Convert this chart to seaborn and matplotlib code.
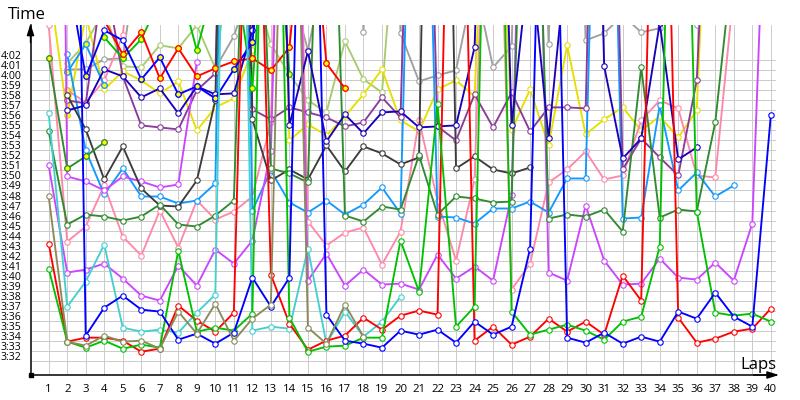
import numpy as np
import pandas as pd
import matplotlib
matplotlib.use('Agg')
import matplotlib.pyplot as plt
from matplotlib.transforms import ScaledTranslation
import seaborn as sns

nan = np.nan
laps = list(range(1, 41))
# lap times in seconds, anything above 4:05 runs off the top of the chart
red_a = [223.7, 213.9, 214.3, 214.3, 214, 212.9, 213.2, 217.5, 216, 214.9, 216.8, 287, 220.6, 215.7, 213.1, 214, 214.5, 216.3, 215.1, 216.5, 217, 216.6, 300, 214, 215.4, 213.6, 214.4, 216.2, 214.9, 215.9, 214.6, 220.5, 218, 295, 216.3, 213.8, 214.2, 214.9, 215.2, 217.2]
red_b = [nan, nan, nan, 246, 242.6, 244.8, 240.2, 243.2, 240.4, 241.2, 241.9, 242.2, 241, 243.3, 262, 241.7, 239.2] + [nan] * 23
green_a = [221.2, 213.9, 213.3, 214, 213.2, 213.6, 213.3, 223, 214.9, 215.3, 215, 216.7, 305, 216.3, 212.9, 213.4, 213.5, 214.3, 214.3, 224, 218.9, 237.6, 215.4, 217.4, 300, 216.9, 214.6, 215.1, 215.6, 215, 214.1, 215.9, 216.4, 223.4, 300, 226.9, 216.8, 216.5, 216.7, 215.9]
green_b = [nan, nan, nan, 244.3, 242.2, 244.1, 248, 250, 243, 250, 252, 239.2, 265, 240.6] + [nan] * 26
blue_a = [nan, 330, 214.5, 217.3, 218.5, 217.1, 216.9, 214.1, 214.7, 213.7, 214.8, 220.3, 217.4, 220.3, 300, 216.6, 214, 213.7, 213.3, 215, 214.6, 215.1, 213.8, 215.9, 214.6, 215.4, 223.2, 297, 214.3, 213.8, 214.8, 213.7, 214.4, 213.9, 216.9, 216.2, 218.8, 216.4, 215.4, 236.5]
blue_b = [nan, 251, 240.4, 245, 244, 240.1, 242.3, 238.6, 239.4, 238.2, 241.1, 243.8, 262] + [nan] * 27
navy = [nan, 237, 237.5, 241.1, 240.4, 238.3, 239.2, 236.7, 239.4, 238.6, 238.7, 245, 300, 235.5, 242.9, 233.9, 236.6, 234.7, 236.8, 236.9, 235.3, 235.4, 235.5, 243.3, 300, 235.5, 253, 234.2, 253, 310, 241.4, 232.2, 234.2, 245.7, 232.1, 233.3] + [nan] * 4
dark_a = [242.2, 231.2, 232.4, 233.8] + [nan] * 36
dark_b = [234.9, 225.6, 226.6, 226.4, 226, 226.4, 227.6, 225.6, 225.4, 226.5, 228, 285, 231.2, 230.7, 229.8, 287, 226.5, 225.9, 227.4, 227.1, 232.5, 226.6, 228.4, 228.2, 227.8, 227.9, 290, 226.2, 226.6, 226.4, 227.1, 224.9, 241.3, 226.3, 227.1, 226.9, 235.8, 253, nan, nan]
teal = [236.7, 217.4, 219.9, 223.6, 215.3, 214.9, 215.1, 214.8, 216.8, 218.6, 320, 215, 215.4, 215.2, 223.2, 213.7, 216.9, 214.4, 215.9, 218.4] + [nan] * 20
olive = [228.4, 213.9, 213.5, 214.5, 213.9, 214, 213.2, 216.9, 214.7, 217.7, 214, 216.2, 217.6, 295, 215.3, 213.7, 217.6, 214.4] + [nan] * 22
pink_a = [245.5, 223.9, 225.4, 229.5, 224.4, 222.5, 227, 223.3, 228, 226.1, 226.9, 228.4, 235.8, 300, 225.9, 223.5, 224.8, 225.3, 221.6, 224.9, 236, 228, 222, 230.1, 285, 219.1, 221.7, 229.8, 231.1, 232.9, 230.1, 230.5, 236, 238, 237.2, 230.5, 230.3, 249, nan, nan]
pink_b = [nan, 239, 237.8, 240, 244.5, 262] + [nan] * 34
violet_a = [231.5, 220.8, 221.1, 221.7, 220.2, 218.5, 218, 221.5, 219.5, 223.1, 221.7, 224, 232.9, 300, 220, 222.7, 219.5, 221.1, 219.6, 219.7, 219.1, 222.6, 220.2, 221.4, 220, 228.5, 300, 220.8, 220, 227.5, 222, 219.6, 219.7, 222.2, 220.3, 220.1, 221.8, 220, 225.7, 276]
violet_b = [400, 230.4, 229.9, 229, 230.4, 229.9, 229.3, 229.6, 241.8] + [nan] * 31
purple = [nan, 238, 237.7, 251, 240.4, 235.5, 235.3, 235.1, 239, 240.7, 300, 237.1, 236.1, 237.3, 236.8, 236.3, 235.4, 235.8, 238.3, 236.3, 300, 235.4, 234, 238.6, 235.3, 238.8, 234.9, 237.3, 237.3, 237.2, 310, 231.1, 234.2, 232.3, 230.5, 240, 280, nan, nan, nan]
yellow = [250, 236.5, 246.5, 239.1, 240.9, 240, 238.7, 239.9, 235, 237.3, 238.2, 243, 300, 234, 235.6, 234.5, 236.4, 238.6, 241.1, 236, 234.9, 239.1, 240, 238.4, 280, 235, 239.1, 233.5, 243.5, 234.6, 236.1, 237.3, 235, 236.4, 234.3, 237, 280, nan, nan, nan]
light_green = [nan, 241.7, 243.7, 247, 241.4, 241.3, 243.5, 243.2, 245.5, 241.2, 255, 250, 243.6, 240.6, 238, 236.8, 243.9, 240.1, 238.8, 262] + [nan] * 20
gray = [nan, 241.1, 241.1, 242.1, 242.2, 255, nan, nan, nan, 241.2, 244.4, 250, nan, 250, 243, 252, 300, 244.8, 300, 244.7, 239.9, 240.5, 241, 250, 241.3, 243.4, 300, 243.6, 300, 244, 244.7, 246.5, 244.8, 245.2, 250, 245.5, 255, nan, nan, nan]
black = [nan, 238.5, 235.1, 230.1, 233.4, 229.2, 227.5, 227.4, 230, 238, 320, 236.1, 230, 231.1, 230.1, 233.5, 230.9, 233.4, 232.7, 231.6, 232.3, 330, 231.2, 232.4, 231.1, 230.7, 231.3] + [nan] * 13
sky_a = [nan, 240.8, 243.6, 239.5] + [nan] * 36
sky_b = [nan, 242.6, 233, 228.6, 231.2, 228.4, 228.4, 227.7, 228, 229.7, 320, 227, 231, 227.8, 226.8, 228, 226.6, 227.6, 229.3, 226.7, 300, 226.4, 226.3, 225.7, 227.2, 227.2, 227.9, 226.8, 230.2, 230.2, 300, 226.2, 226.3, 237.5, 229, 230.8, 228.4, 229.5, nan, nan]

# (values, colour, laps with a yellow marker)
series = [
    (gray, '#a0a0a0', []),
    (light_green, '#aaca70', []),
    (yellow, '#e6e000', [2]),
    (pink_b, '#ff88aa', [2]),
    (pink_a, '#ff88aa', []),
    (sky_a, '#1199ff', [2, 3, 4]),
    (sky_b, '#1199ff', []),
    (purple, '#8b3a9c', []),
    (violet_b, '#cc44ff', []),
    (violet_a, '#cc44ff', []),
    (black, '#3c3c3c', []),
    (dark_a, '#2e8b2e', [1, 2, 3, 4]),
    (dark_b, '#2e8b2e', []),
    (green_b, '#00c000', [4, 5, 6, 9, 12, 14]),
    (red_b, '#ff0000', [5, 6, 7, 8, 9, 10, 11, 12, 13, 14, 16, 17]),
    (navy, '#1a00b8', []),
    (blue_b, '#0000ff', [3, 6, 7, 8, 9, 10, 11, 12]),
    (teal, '#44cfd0', []),
    (red_a, '#ff0000', []),
    (green_a, '#00c000', []),
    (blue_a, '#0000ff', []),
    (olive, '#8a8a5a', []),
]

sns.set_style('white')
plt.rcParams['font.family'] = ['Open Sans', 'DejaVu Sans']

fig = plt.figure(figsize=(8, 4), dpi=100)
ax = fig.add_axes([30.5 / 800, 25 / 400, 745.5 / 800, 350 / 400])

for values, color, wet in series:
    df = pd.DataFrame({'lap': laps, 'time': values})
    # a missing lap breaks the line
    df['stint'] = df['time'].isna().cumsum()
    df = df.dropna()
    for _, stint in df.groupby('stint'):
        sns.lineplot(data=stint, x='lap', y='time', ax=ax, color=color, estimator=None, sort=False,
                     linewidth=1.35, marker='o', markersize=3.9, markerfacecolor='white',
                     markeredgecolor=color, markeredgewidth=0.8, legend=False, zorder=3)
    if wet:
        wet_df = df[df['lap'].isin(wet)]
        sns.scatterplot(data=wet_df, x='lap', y='time', ax=ax, color='#ffff00', edgecolor=color,
                        linewidth=0.8, s=15, legend=False, zorder=3)

ax.set_xlim(0.017, 40.28)
ax.set_ylim(210.57, 245.53)

yticks = list(range(212, 243))
ax.set_yticks(yticks)
ax.set_yticklabels([f'{t // 60}:{t % 60:02d}' for t in yticks])
ax.set_xticks(laps)
ax.set_xticklabels([str(l) for l in laps])
ax.tick_params(axis='both', length=0, labelsize=7.6, colors='black')
ax.tick_params(axis='x', pad=6.5, labelsize=8.2)
ax.tick_params(axis='y', pad=6.3)
# labels sit 5px above their grid line
shift = ScaledTranslation(0, 5 / 100, fig.dpi_scale_trans)
for label in ax.get_yticklabels():
    label.set_transform(label.get_transform() + shift)
ax.set_xlabel('')
ax.set_ylabel('')

# grid only runs between 3:32 and 4:02
for t in yticks:
    ax.axhline(t, color='#cccccc', linewidth=0.72, zorder=1)
for l in laps:
    ax.axvline(l, color='#cccccc', linewidth=0.72, zorder=1)

sns.despine(ax=ax, top=True, right=True)
ax.spines['left'].set_linewidth(1.1)
ax.spines['bottom'].set_linewidth(1.1)
ax.spines['left'].set_color('black')
ax.spines['bottom'].set_color('black')

arrow = dict(arrowstyle='-|>,head_length=0.7,head_width=0.22', color='black', lw=1, shrinkA=0, shrinkB=0)
ax.annotate('', xy=(0, 1.004), xytext=(0, 0.95), xycoords='axes fraction', arrowprops=arrow, annotation_clip=False)
ax.annotate('', xy=(1.004, 0), xytext=(0.97, 0), xycoords='axes fraction', arrowprops=arrow, annotation_clip=False)
ax.plot([0], [0], marker='s', ms=3, color='black', transform=ax.transAxes, clip_on=False, zorder=5)

fig.text(8 / 800, 1 - 15 / 400, 'Time', fontsize=12, va='center', ha='left', color='black')
fig.text(776 / 800, 1 - 365 / 400, 'Laps', fontsize=12, va='center', ha='right', color='black')

fig.savefig('out.png', dpi=100)
